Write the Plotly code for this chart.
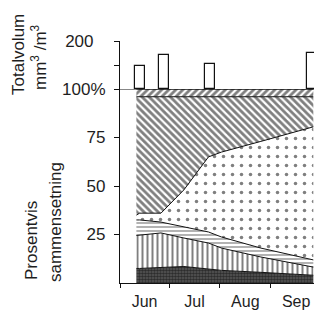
import plotly.graph_objects as go

# Sample dates (stacked composition)
dates = ["2000-06-11", "2000-06-13", "2000-06-26", "2000-07-10",
         "2000-07-25", "2000-08-02", "2000-08-26", "2000-09-27"]
# Layer percentages (bottom to top)
dark_pct = [7.5, 7.5, 8.0, 8.5, 7.2, 6.5, 5.5, 4.0]
vert_pct = [17.0, 17.2, 17.8, 14.7, 13.4, 11.5, 7.9, 4.2]
horiz_pct = [8.0, 7.8, 5.6, 5.7, 5.7, 5.7, 4.6, 3.7]
dots_pct = [2.5, 3.5, 4.6, 19.1, 38.7, 43.8, 55.0, 68.6]
hatch_pct = [61.0, 60.0, 60.0, 48.0, 31.0, 28.5, 23.0, 15.5]
top_pct = [4.0, 4.0, 4.0, 4.0, 4.0, 4.0, 4.0, 4.0]

# Total volume bars
bar_dates = ["2000-06-13", "2000-06-28", "2000-07-26", "2000-09-26"]
bar_vals = [96, 140, 104, 151]

pct_ticks = [25, 50, 75, 100]
pct_labels = ["25", "50", "75", "100%"]

FONT = "Liberation Sans, Arial, sans-serif"
INK = "#1e1e1e"

fig = go.Figure()

layers = [
    (dark_pct, dict(shape=".", size=3, solidity=0.6, fgcolor="#000", bgcolor="#5a5a5a")),
    (vert_pct, dict(shape="|", size=5, solidity=0.4, fgcolor="#000", bgcolor="white")),
    (horiz_pct, dict(shape="-", size=4, solidity=0.3, fgcolor="#000", bgcolor="white")),
    (dots_pct, dict(shape=".", size=9, solidity=0.12, fgcolor="#000", bgcolor="white")),
    (hatch_pct, dict(shape="\\", size=5, solidity=0.55, fgcolor="#000", bgcolor="white")),
    (top_pct, dict(shape="/", size=5, solidity=0.55, fgcolor="#000", bgcolor="white")),
]
for vals, pat in layers:
    fig.add_trace(go.Scatter(
        x=dates, y=vals, stackgroup="comp", mode="lines",
        line=dict(color="#111", width=1), fillpattern=pat,
        xaxis="x", yaxis="y", showlegend=False, hoverinfo="skip"))

fig.add_trace(go.Bar(
    x=bar_dates, y=bar_vals, width=6 * 24 * 3600 * 1000,
    marker=dict(color="white", line=dict(color="#111", width=1.2)),
    xaxis="x", yaxis="y2", showlegend=False))

fig.add_shape(type="line", xref="paper", x0=0, x1=1, yref="y", y0=100, y1=100,
              line=dict(color="#111", width=1.2))

split = 194 / 242
fig.update_layout(
    width=314, height=314,
    margin=dict(l=120, r=0, t=41, b=31),
    paper_bgcolor="white", plot_bgcolor="white",
    font=dict(family=FONT, size=17, color=INK),
    xaxis=dict(type="date", range=["2000-06-01", "2000-09-27 10:00"],
               tick0="2000-06-01", dtick="M1", tickformat="%b", ticklabelmode="period",
               ticks="outside", ticklen=4, tickcolor="#111",
               showline=True, linecolor="#111", linewidth=1.2,
               showgrid=False, zeroline=False,
               tickfont=dict(size=16, family=FONT, color=INK)),
    yaxis=dict(domain=[0, split], range=[0, 100], tickvals=pct_ticks, ticktext=pct_labels,
               ticks="outside", ticklen=5, tickcolor="#111",
               showline=True, linecolor="#111", linewidth=1.2,
               showgrid=False, zeroline=False, ticklabelstandoff=5,
               tickfont=dict(size=17, family=FONT, color=INK)),
    yaxis2=dict(domain=[split, 1], range=[0, 200], tickvals=[100, 200], ticktext=["", "200"],
                ticks="outside", ticklen=5, tickcolor="#111",
                showline=True, linecolor="#111", linewidth=1.2,
                showgrid=False, zeroline=False, ticklabelstandoff=17,
                tickfont=dict(size=17, family=FONT, color=INK)),
    bargap=0,
)

def px_x(p):
    return (p - 120) / 194

def px_y(p):
    return (283 - p) / 242

for text, cx, cy in [
    ("Totalvolum", 18, 55),
    ("mm<sup>3</sup> /m<sup>3</sup>", 39, 57),
    ("Prosentvis", 31, 241),
    ("sammensetning", 55, 222),
]:
    fig.add_annotation(text=text, xref="paper", yref="paper", x=px_x(cx), y=px_y(cy),
                       xanchor="center", yanchor="middle", textangle=-90,
                       showarrow=False, font=dict(size=17, family=FONT, color=INK))

fig.write_html("out.html", config={"displayModeBar": False},
               post_script="document.body.style.margin='0';document.body.style.overflow='hidden';")
